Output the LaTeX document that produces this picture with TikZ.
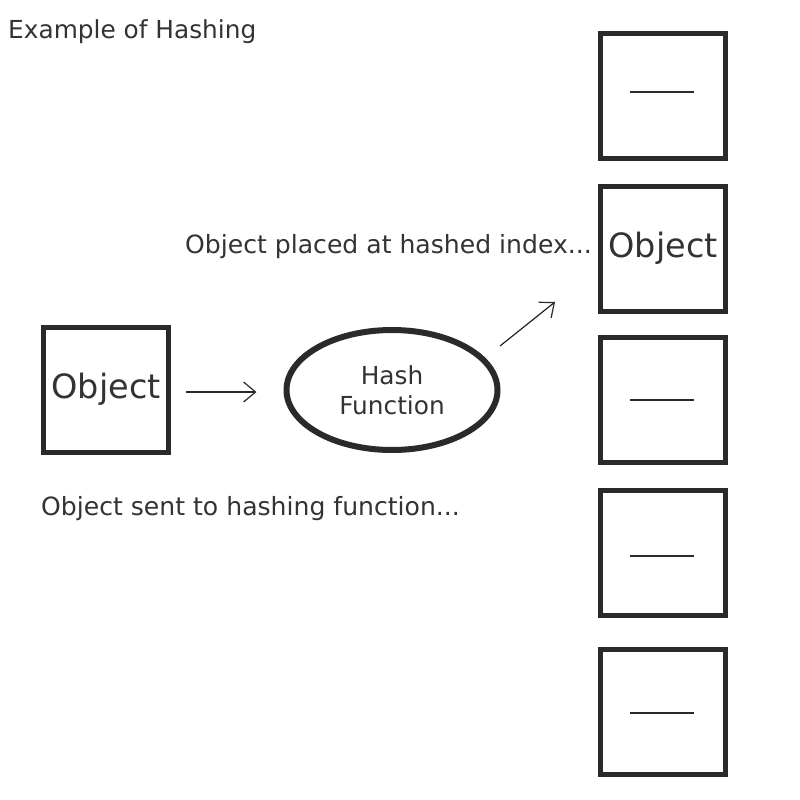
\documentclass[tikz,border=0pt]{standalone}
\usepackage{fontspec}
\setmainfont{DejaVu Sans}
\usetikzlibrary{arrows.meta,shapes.geometric}
\definecolor{txt}{HTML}{333333}
\definecolor{bord}{HTML}{2A2A2A}
\tikzset{
  slot/.style={draw=bord, line width=5pt, minimum size=125pt, inner sep=0pt, fill=white, text=txt, font=\fontsize{33.5}{40}\selectfont},
  caption/.style={anchor=base west, inner sep=0pt, text=txt, font=\fontsize{25.1}{30}\selectfont},
  hashfn/.style={ellipse, draw=bord, line width=6pt, minimum width=211pt, minimum height=120pt, inner sep=0pt, text=txt, align=center, font=\fontsize{24.8}{30}\selectfont},
  emptymark/.style={draw=bord, line width=1.3pt},
  flow/.style={draw=bord, line width=1.2pt, -{Straight Barb[length=12pt,width=20pt]}}
}
\begin{document}
\begin{tikzpicture}[x=1pt,y=-1pt]
\useasboundingbox[fill=white] (0,0) rectangle (800,800);
\node[caption, font=\fontsize{24.8}{30}\selectfont] (title) at (8,39) {Example of Hashing};
\node[caption] (placed) at (185,253) {Object placed at hashed index...};
\node[caption] (sent) at (41,515) {Object sent to hashing function...};

\node[slot] (objL) at (106,389.5) {Object};
\node[hashfn] (hash) at (392,390) {Hash\\Function};

\node[slot] (b1) at (663,96) {};
\node[slot] (b2) at (663,248.5) {Object};
\node[slot] (b3) at (663,400) {};
\node[slot] (b4) at (663,553) {};
\node[slot] (b5) at (663,711.5) {};

\draw[emptymark] (b1.center) ++(-33,-4) -- ++(64,0);
\draw[emptymark] (b3.center) ++(-33,0) -- ++(64,0);
\draw[emptymark] (b4.center) ++(-33,3) -- ++(64,0);
\draw[emptymark] (b5.center) ++(-33,1.5) -- ++(64,0);

\coordinate (a2s) at (500,346);
\coordinate (a2e) at (555,302);
\draw[flow, shorten <=15pt, shorten >=27pt] (objL.east |- 0,392) -- (hash.west |- 0,392);
\draw[flow] (a2s) -- (a2e);
\end{tikzpicture}
\end{document}
